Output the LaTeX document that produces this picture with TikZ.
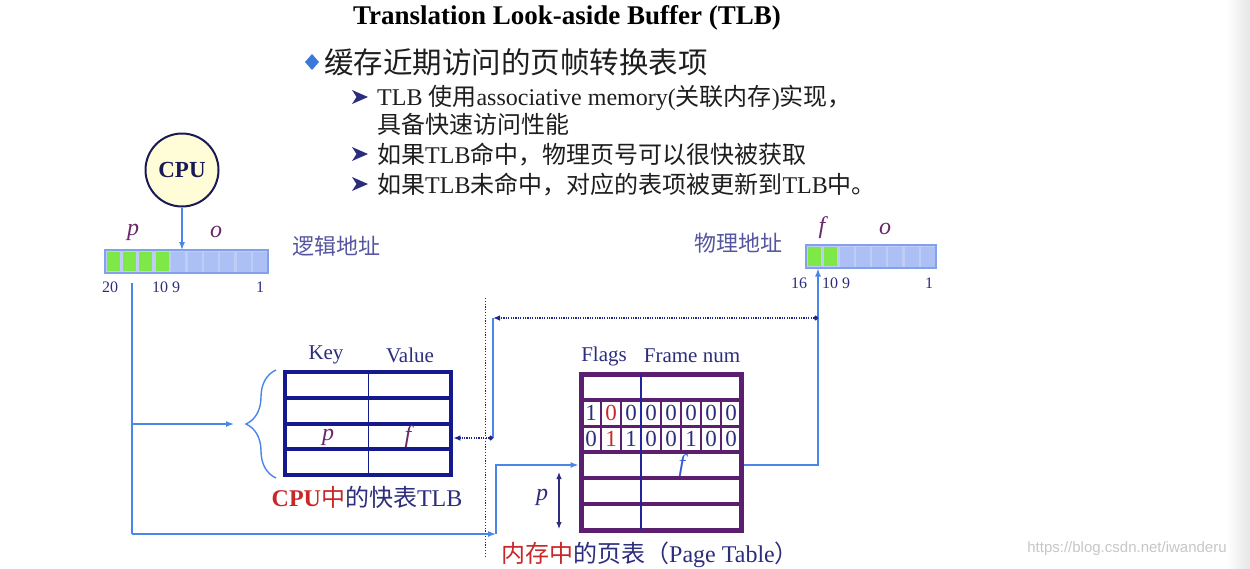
\documentclass[tikz,border=0pt]{standalone}
\usepackage{fontspec}
\setmainfont{Liberation Serif}
\newfontfamily\cjk{Noto Sans CJK SC}
\newfontfamily\wmf{Liberation Sans}
\usetikzlibrary{arrows.meta,decorations.pathreplacing,calc}
\newcommand\fsz[1]{\fontsize{#1}{#1}\selectfont}
\definecolor{connc}{RGB}{74,134,232}
\definecolor{dotcol}{RGB}{30,40,140}
\definecolor{navyt}{RGB}{45,45,125}
\definecolor{tlbc}{RGB}{20,25,140}
\definecolor{ptc}{RGB}{92,30,110}
\definecolor{ptdiv}{RGB}{35,35,160}
\definecolor{redt}{RGB}{200,40,40}
\definecolor{purt}{RGB}{105,40,105}
\definecolor{cpufill}{RGB}{255,253,215}
\definecolor{cpub}{RGB}{25,25,85}
\definecolor{greenc}{RGB}{125,232,70}
\definecolor{bluec}{RGB}{172,192,245}
\definecolor{barbg}{RGB}{190,205,245}
\definecolor{barb}{RGB}{130,160,235}
\definecolor{addrt}{RGB}{85,85,160}
\definecolor{bodyt}{RGB}{30,30,30}
\definecolor{diam}{RGB}{60,120,220}
\definecolor{fblue}{RGB}{50,90,210}
\begin{document}
\begin{tikzpicture}[x=1pt,y=-1pt,
  conn/.style={draw=connc, line width=1.4pt},
  arr/.style={-{Latex[length=8pt,width=6pt]}},
  dotc/.style={draw=dotcol, line width=1.3pt, dash pattern=on 1.2pt off 1.2pt},
  sepline/.style={draw=dotcol, line width=1pt, dash pattern=on 1.2pt off 1.6pt},
  lbl/.style={text=navyt, font=\fsz{21}, inner sep=0},
  ital/.style={text=purt, font=\fsz{24}\itshape, inner sep=0},
  num/.style={text=navyt, font=\fsz{16}, inner sep=0},
  cjkl/.style={text=addrt, font=\cjk\fsz{22}, inner sep=0},
  dig/.style={font=\fsz{23}, inner sep=0},
  body/.style={anchor=base west, text=bodyt, font=\fsz{24}, inner sep=0},
  subarr/.pic={\fill[navyt] (-8,-7) -- (8,0) -- (-8,7) -- (-3.5,0) -- cycle;}]
\useasboundingbox (0,0) rectangle (1250,568);
\fill[white] (0,0) rectangle (1250,568);
\shade[left color=white,right color=black!10] (1226,0) rectangle (1250,568);

% ---------- header text ----------
\node[font=\fsz{27}\bfseries, text=black, inner sep=0] (title) at (567,18) {Translation Look-aside Buffer (TLB)};
\fill[diam] (312,54) -- (319,62) -- (312,70) -- (305,62) -- cycle;
\node[anchor=base west, font=\cjk\fsz{29.5}, text=bodyt, inner sep=0] (b0) at (324,73) {缓存近期访问的页帧转换表项};
\pic at (360,97) {subarr};
\pic at (360,154) {subarr};
\pic at (360,184) {subarr};
\node[body] (s1) at (377,105) {TLB {\cjk 使用}associative memory({\cjk 关联内存}){\cjk 实现，}};
\node[body] (s2) at (377,133) {\cjk 具备快速访问性能};
\node[body] (s3) at (377,163) {{\cjk 如果}TLB{\cjk 命中，物理页号可以很快被获取}};
\node[body] (s4) at (377,193) {{\cjk 如果}TLB{\cjk 未命中，对应的表项被更新到}TLB{\cjk 中。}};

% ---------- CPU and logical address ----------
\node[circle, draw=cpub, fill=cpufill, line width=2pt, minimum size=73, inner sep=0, font=\fsz{23}\bfseries, text=cpub] (cpu) at (182,170) {CPU};
\node[draw=barb, fill=barbg, line width=1.2pt, minimum width=163, minimum height=23, inner sep=0, outer sep=0] (la) at (186.5,261.5) {};
\foreach \i in {0,...,3} \fill[greenc] ({105+\i*16.3+1.6},251.8) rectangle ({105+(\i+1)*16.3-1.6},271.2);
\foreach \i in {4,...,9} \fill[bluec] ({105+\i*16.3+1.2},251.5) rectangle ({105+(\i+1)*16.3-1.2},271.5);
\node[ital] (lp) at (133,232) {p};
\node[ital] (lo) at (216,232) {o};
\node[num] (n20) at (110,287) {20};
\node[num] (n109) at (166,287) {10 9};
\node[num] (n1) at (260,287) {1};
\node[cjkl] (laddr) at (336,246) {逻辑地址};
\draw[conn,arr] (cpu.south) -- (cpu.south |- la.north);

% ---------- physical address ----------
\node[draw=barb, fill=barbg, line width=1.2pt, minimum width=130, minimum height=23, inner sep=0, outer sep=0] (pa) at (871,256.5) {};
\foreach \i in {0,1} \fill[greenc] ({806+\i*16.25+1.6},246.8) rectangle ({806+(\i+1)*16.25-1.6},266.2);
\foreach \i in {2,...,7} \fill[bluec] ({806+\i*16.25+1.2},246.5) rectangle ({806+(\i+1)*16.25-1.2},266.5);
\node[ital] (pf) at (822,228) {f};
\node[ital] (po) at (885,229) {o};
\node[num] (n16) at (799,283) {16};
\node[num] (n109b) at (836,283) {10 9};
\node[num] (n1b) at (929,283) {1};
\node[cjkl] (paddr) at (738,243) {物理地址};

% ---------- TLB ----------
\node[draw=tlbc, line width=4.5pt, minimum width=166, minimum height=103, inner sep=0] (tlb) at (368,423.5) {};
\foreach \yy in {397.75,423.5,449.25} \draw[tlbc,line width=4pt] (285,\yy) -- (451,\yy);
\draw[tlbc, line width=1pt] (368,374) -- (368,473);
\node[lbl] (key) at (326,355) {Key};
\node[lbl] (val) at (410,355) {Value};
\node[ital] (tp) at (328,437) {p};
\node[ital] (tf) at (408,437) {f};
\node[font=\fsz{24}, inner sep=0] (tlbcap) at (367,497) {\textcolor{redt}{\bfseries CPU}{\cjk\color{redt}中}{\color{navyt}{\cjk 的快表}TLB}};

% ---------- Page table ----------
\node[draw=ptc, line width=5pt, minimum width=160, minimum height=156, inner sep=0] (pt) at (661,452) {};
\foreach \yy in {400,452,478,504} \draw[ptc,line width=4.5pt] (581,\yy) -- (741,\yy);
\draw[ptc,line width=3pt] (581,426) -- (741,426);
\foreach \xx in {601,621,661,681,701,721} \draw[ptc, line width=2.5pt] (\xx,400) -- (\xx,452);
\draw[ptdiv, line width=2pt] (641,374) -- (641,530);
\foreach \d/\c [count=\k from 0] in {1/navyt,0/redt,0/navyt,0/navyt,0/navyt,0/navyt,0/navyt,0/navyt}
  \node[dig, text=\c] (ra\k) at ({591+20*\k},413) {\d};
\foreach \d/\c [count=\k from 0] in {0/navyt,1/redt,1/navyt,0/navyt,0/navyt,1/navyt,0/navyt,0/navyt}
  \node[dig, text=\c] (rb\k) at ({591+20*\k},439) {\d};
\node[ital, text=fblue] (ptf) at (682,466) {f};
\node[lbl] (flags) at (604,356) {Flags};
\node[lbl] (fnum) at (692,356) {Frame num};
\node[ital, text=navyt] (ptp) at (542,497) {p};
\coordinate (pa1) at (559,472);
\coordinate (pa2) at (559,529);
\draw[navyt, line width=1.2pt, {Latex[length=7pt,width=5.5pt]}-{Latex[length=7pt,width=5.5pt]}] (pa1) -- (pa2);
\node[font=\fsz{24}, inner sep=0] (ptcap) at (650,555) {{\cjk\color{redt}内存中}{\color{navyt}{\cjk 的页表（}Page Table{\cjk ）}}};

% ---------- connectors ----------
\coordinate (sept) at (485,298);
\coordinate (sepb) at (485,556);
\draw[sepline] (sept) -- (sepb);

\coordinate (lstart) at (132,283);
\coordinate (lcorner) at (132,534);
\coordinate (bracetip) at (245,424);
\coordinate (bcorner) at (496,534);
\coordinate (ptr4w) at (578.5,465);
\coordinate (ptr4e) at (743.5,465);
\coordinate (fin) at (818,268.5);
\coordinate (fdot) at (818,318);
\coordinate (vtop) at (493,318);
\coordinate (vbot) at (493,438);

\draw[conn] (lstart) -- (lcorner);
\draw[conn,arr,shorten >=11pt] (lstart |- bracetip) -- (bracetip);
\draw[conn, decorate, decoration={brace, amplitude=30pt}] (276,478) -- (276,370);
\draw[conn,arr] (lcorner) -- (bcorner);
\draw[conn,arr] (bcorner) |- (ptr4w);
\draw[conn,arr] (ptr4e) -| (fin);
\draw[dotc, {Circle[length=4.5pt]}-{Latex[length=7pt,width=5.5pt]}] (fdot) -- (vtop);
\draw[conn] (vtop) -- (vbot);
\draw[dotc, {Circle[length=4.5pt]}-{Latex[length=7pt,width=5.5pt]}] (vbot) -- (tlb.east |- vbot);

% watermark
\node[font=\wmf\fsz{15}, text=black!22, inner sep=0] (wm) at (1127,549) {https://blog.csdn.net/iwanderu};
\end{tikzpicture}
\end{document}
